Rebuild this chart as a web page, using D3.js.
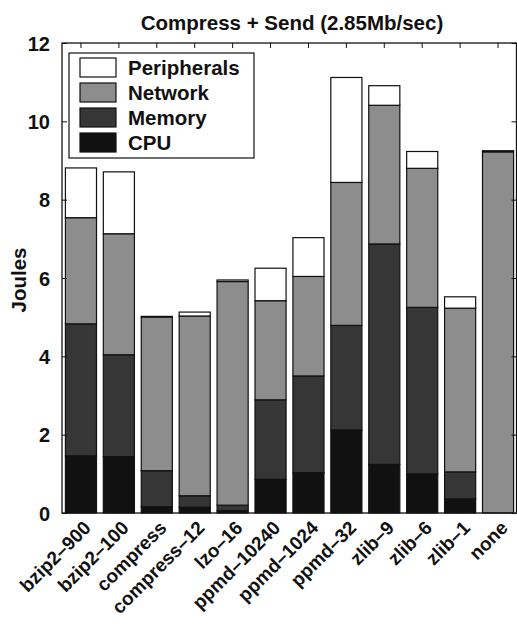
<!DOCTYPE html>
<html>
<head>
<meta charset="utf-8">
<title>Compress + Send</title>
<script src="https://d3js.org/d3.v7.min.js"></script>
<style type="text/css">
	body { margin:0; background:#fff; }
	text { font-family: "Liberation Sans", Arial, Helvetica, sans-serif; font-weight: bold; fill:#111; }
</style>
</head>
<body>
<script>
// data (Joules per component)
var categories = ["bzip2–900", "bzip2–100", "compress", "compress–12", "lzo–16", "ppmd–10240",
                  "ppmd–1024", "ppmd–32", "zlib–9", "zlib–6", "zlib–1", "none"];
var cpu         = [1.46, 1.44, 0.16, 0.15, 0.06, 0.86, 1.03, 2.12, 1.24, 1.00, 0.36, 0.00];
var memory      = [3.37, 2.60, 0.92, 0.29, 0.14, 2.03, 2.47, 2.67, 5.63, 4.25, 0.69, 0.00];
var network     = [2.71, 3.09, 3.92, 4.59, 5.71, 2.53, 2.54, 3.65, 3.54, 3.55, 4.18, 9.22];
var peripherals = [1.27, 1.58, 0.02, 0.10, 0.04, 0.83, 0.99, 2.68, 0.50, 0.43, 0.29, 0.03];
var yTicks = [0, 2, 4, 6, 8, 10, 12];

var keys = ["CPU", "Memory", "Network", "Peripherals"];
var colors = {"CPU":"#111111", "Memory":"#363636", "Network":"#8d8d8d", "Peripherals":"#ffffff"};

var table = categories.map(function(c, i){
	return {name:c, CPU:cpu[i], Memory:memory[i], Network:network[i], Peripherals:peripherals[i]};
});

var W = 517, H = 624;
var pLeft = 62, pRight = 517, pTop = 43, pBottom = 513;

var svg = d3.select("body").append("svg").attr("width", W).attr("height", H);

var x = d3.scaleBand().domain(categories).range([pLeft, pRight]).paddingInner(0.18).paddingOuter(0.09);
var y = d3.scaleLinear().domain([0, 12]).range([pBottom, pTop]);

var series = d3.stack().keys(keys)(table);

svg.append("g").selectAll("g")
	.data(series).enter().append("g")
	.attr("fill", function(d){ return colors[d.key]; })
	.selectAll("rect")
	.data(function(d){ return d; }).enter().append("rect")
	.attr("x", function(d){ return x(d.data.name); })
	.attr("width", x.bandwidth())
	.attr("y", function(d){ return y(d[1]); })
	.attr("height", function(d){ return y(d[0]) - y(d[1]); })
	.attr("stroke", "#111")
	.attr("stroke-width", 1.2);

// frame
svg.append("rect")
	.attr("x", pLeft).attr("y", pTop)
	.attr("width", pRight - pLeft - 0.5).attr("height", pBottom - pTop)
	.attr("fill", "none").attr("stroke", "#111").attr("stroke-width", 1.3);

// y axis (left) with inward ticks
var yAxis = d3.axisLeft(y).tickValues(yTicks).tickSize(-5).tickPadding(12);
var gy = svg.append("g").attr("transform", "translate(" + pLeft + ",0)").call(yAxis);
gy.select(".domain").remove();
gy.selectAll("line").attr("stroke", "#111");
gy.selectAll("text").style("font-size", "20px").attr("dy", "0.36em");

// right side ticks
var gr = svg.append("g").attr("transform", "translate(" + (pRight - 0.5) + ",0)")
	.call(d3.axisRight(y).tickValues(yTicks).tickSize(-5).tickFormat(""));
gr.select(".domain").remove();
gr.selectAll("line").attr("stroke", "#111");

// top ticks at bar centres
var gt = svg.append("g").attr("transform", "translate(0," + pTop + ")")
	.call(d3.axisTop(x).tickSize(-5).tickFormat(""));
gt.select(".domain").remove();
gt.selectAll("line").attr("stroke", "#111");

// x labels, rotated
var gx = svg.append("g").attr("transform", "translate(0," + pBottom + ")")
	.call(d3.axisBottom(x).tickSize(0));
gx.select(".domain").remove();
gx.selectAll("text")
	.style("font-size", "19px")
	.attr("text-anchor", "end")
	.attr("dy", null).attr("y", 0)
	.attr("transform", "translate(11,16) rotate(-45)");

// title
svg.append("text")
	.attr("x", 292).attr("y", 30)
	.attr("text-anchor", "middle")
	.style("font-size", "20.5px")
	.text("Compress + Send (2.85Mb/sec)");

// y label
svg.append("text")
	.attr("transform", "translate(26,280) rotate(-90)")
	.attr("text-anchor", "middle")
	.style("font-size", "20.5px")
	.text("Joules");

// legend
var lg = svg.append("g");
lg.append("rect")
	.attr("x", 69).attr("y", 53).attr("width", 185).attr("height", 105)
	.attr("fill", "#fff").attr("stroke", "#111").attr("stroke-width", 1.2);
var legendKeys = ["Peripherals", "Network", "Memory", "CPU"];
legendKeys.forEach(function(k, i){
	lg.append("rect")
		.attr("x", 80).attr("y", 58 + i * 25)
		.attr("width", 36).attr("height", 19)
		.attr("fill", colors[k]).attr("stroke", "#111").attr("stroke-width", 1.2);
	lg.append("text")
		.attr("x", 128).attr("y", 75 + i * 25)
		.style("font-size", "20.5px")
		.text(k);
});
</script>
</body>
</html>
